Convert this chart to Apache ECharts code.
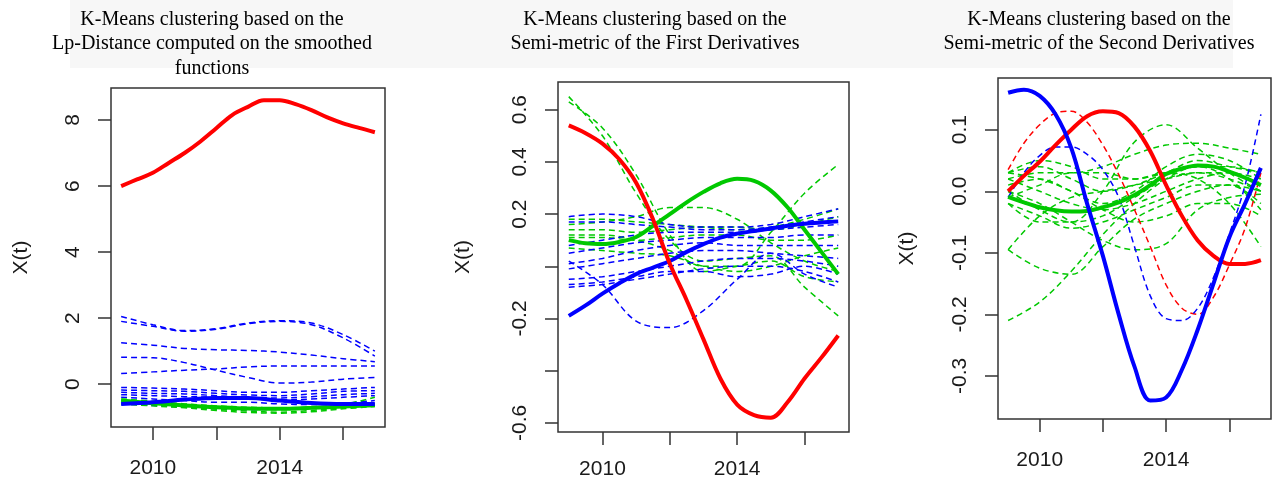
<!DOCTYPE html>
<html>
<head>
<meta charset="utf-8">
<title>K-Means clustering of functional data</title>
<script src="https://cdn.jsdelivr.net/npm/echarts@6/dist/echarts.min.js"></script>
<style>
  html, body { margin: 0; padding: 0; background: #fff; }
  #main { width: 1273px; height: 481px; }
</style>
</head>
<body>
<div id="main"></div>
<script>
// time grids
var yearsFine = [2009, 2009.5, 2010, 2010.5, 2011, 2011.5, 2012, 2012.5, 2013, 2013.5, 2014, 2014.5, 2015, 2015.5, 2016, 2016.5, 2017];
var yearsCoarse = [2009, 2010, 2011, 2012, 2013, 2014, 2015, 2016, 2017];
var xTicks = [2010, 2012, 2014, 2016];
var xLabels = [2010, 2014];

// panel 1 : Lp-distance on smoothed functions
var p1RedMean = [6.0, 6.2, 6.4, 6.7, 7.0, 7.35, 7.75, 8.15, 8.4, 8.6, 8.6, 8.48, 8.3, 8.08, 7.9, 7.76, 7.63];
var p1BlueMean = [-0.6, -0.55, -0.47, -0.42, -0.42, -0.5, -0.57, -0.6, -0.6];
var p1GreenMean = [-0.5, -0.58, -0.65, -0.7, -0.74, -0.75, -0.72, -0.68, -0.64];
var p1BlueMembers = [
  [2.05, 1.8, 1.62, 1.68, 1.85, 1.92, 1.85, 1.5, 1.0],
  [1.9, 1.75, 1.6, 1.66, 1.83, 1.9, 1.8, 1.4, 0.85],
  [1.25, 1.18, 1.08, 1.04, 1.02, 0.97, 0.88, 0.77, 0.68],
  [0.81, 0.8, 0.65, 0.42, 0.2, 0.03, 0.06, 0.15, 0.2],
  [0.32, 0.37, 0.42, 0.46, 0.52, 0.55, 0.55, 0.55, 0.55],
  [-0.1, -0.12, -0.15, -0.2, -0.25, -0.25, -0.2, -0.15, -0.1],
  [-0.18, -0.2, -0.22, -0.28, -0.33, -0.35, -0.3, -0.22, -0.2],
  [-0.25, -0.28, -0.3, -0.35, -0.4, -0.42, -0.38, -0.32, -0.28],
  [-0.32, -0.35, -0.38, -0.4, -0.45, -0.48, -0.45, -0.4, -0.35],
  [-0.4, -0.45, -0.5, -0.55, -0.55, -0.6, -0.62, -0.58, -0.5],
  [-0.6, -0.65, -0.7, -0.75, -0.78, -0.75, -0.7, -0.65, -0.6]
];
var p1GreenMembers = [
  [-0.45, -0.52, -0.6, -0.66, -0.7, -0.72, -0.7, -0.62, -0.4],
  [-0.55, -0.62, -0.7, -0.76, -0.82, -0.85, -0.8, -0.72, -0.65],
  [-0.6, -0.66, -0.72, -0.8, -0.86, -0.88, -0.84, -0.75, -0.68],
  [-0.5, -0.56, -0.62, -0.68, -0.74, -0.78, -0.74, -0.68, -0.62]
];

// panel 2 : semi-metric of the first derivatives
var p2RedMean = [0.54, 0.51, 0.47, 0.41, 0.32, 0.18, 0.01, -0.13, -0.28, -0.43, -0.53, -0.57, -0.58, -0.52, -0.43, -0.35, -0.265];
var p2GreenMean = [0.10, 0.088, 0.085, 0.093, 0.112, 0.155, 0.2, 0.245, 0.285, 0.318, 0.335, 0.327, 0.29, 0.225, 0.14, 0.055, -0.03];
var p2BlueMean = [-0.19, -0.15, -0.105, -0.065, -0.03, -0.005, 0.02, 0.055, 0.085, 0.11, 0.125, 0.135, 0.145, 0.155, 0.163, 0.168, 0.172];
var p2GreenMembers = [
  [0.65, 0.5, 0.28, 0.1, 0.02, 0.03, 0.04, -0.08, -0.19],
  [0.63, 0.53, 0.35, 0.12, -0.02, 0.0, 0.02, -0.04, -0.06],
  [0.12, 0.12, 0.1, 0.06, 0.0, 0.0, 0.13, 0.28, 0.39],
  [0.16, 0.17, 0.19, 0.225, 0.225, 0.18, 0.09, 0.02, -0.02],
  [0.18, 0.18, 0.17, 0.16, 0.15, 0.14, 0.15, 0.18, 0.22],
  [0.14, 0.14, 0.13, 0.14, 0.15, 0.15, 0.14, 0.16, 0.19],
  [0.11, 0.11, 0.1, 0.11, 0.12, 0.12, 0.1, 0.1, 0.12],
  [0.07, 0.06, 0.05, 0.04, 0.0, -0.02, 0.0, 0.04, 0.07]
];
var p2BlueMembers = [
  [0.02, -0.07, -0.21, -0.235, -0.17, -0.05, 0.05, -0.03, -0.08],
  [-0.07, -0.06, -0.04, -0.02, -0.02, -0.04, -0.03, 0.0, -0.03],
  [0.19, 0.2, 0.19, 0.16, 0.15, 0.15, 0.16, 0.19, 0.22],
  [0.17, 0.17, 0.16, 0.15, 0.14, 0.14, 0.15, 0.17, 0.19],
  [0.08, 0.1, 0.12, 0.13, 0.13, 0.13, 0.14, 0.15, 0.16],
  [0.05, 0.07, 0.09, 0.1, 0.11, 0.11, 0.11, 0.12, 0.12],
  [0.01, 0.03, 0.06, 0.08, 0.09, 0.08, 0.08, 0.08, 0.08],
  [-0.01, 0.01, 0.03, 0.05, 0.06, 0.06, 0.05, 0.04, 0.03],
  [-0.05, -0.04, -0.02, 0.0, 0.02, 0.03, 0.03, 0.02, 0.0],
  [-0.08, -0.07, -0.05, -0.03, -0.01, 0.0, 0.0, -0.02, -0.06]
];

// panel 3 : semi-metric of the second derivatives
var p3BlueMean = [0.16, 0.165, 0.155, 0.125, 0.07, -0.02, -0.105, -0.2, -0.285, -0.34, -0.335, -0.29, -0.225, -0.15, -0.075, -0.02, 0.038];
var p3RedMean = [0.0, 0.025, 0.048, 0.075, 0.1, 0.122, 0.13, 0.127, 0.105, 0.065, 0.01, -0.04, -0.08, -0.105, -0.118, -0.118, -0.112];
var p3GreenMean = [-0.009, -0.018, -0.026, -0.031, -0.033, -0.032, -0.026, -0.018, -0.006, 0.01, 0.028, 0.037, 0.042, 0.04, 0.032, 0.022, 0.01];
var p3RedMember = [0.035, 0.078, 0.108, 0.127, 0.13, 0.112, 0.075, 0.027, -0.03, -0.09, -0.152, -0.19, -0.2, -0.172, -0.12, -0.06, 0.03];
var p3BlueMember = [-0.01, 0.03, 0.058, 0.072, 0.072, 0.06, 0.035, -0.01, -0.09, -0.17, -0.207, -0.21, -0.19, -0.14, -0.07, 0.01, 0.125];
var p3GreenMembers = [
  [-0.21, -0.18, -0.13, -0.07, -0.02, 0.02, 0.04, 0.04, 0.03],
  [-0.095, -0.125, -0.135, -0.09, -0.045, -0.02, 0.0, 0.01, 0.0],
  [-0.095, -0.04, -0.01, 0.0, 0.01, 0.02, 0.03, 0.03, 0.02],
  [0.03, 0.05, 0.04, 0.02, 0.02, 0.03, 0.02, -0.02, -0.09],
  [0.02, 0.03, 0.03, 0.04, 0.06, 0.075, 0.078, 0.07, 0.06],
  [0.0, -0.02, -0.05, -0.08, -0.095, -0.085, -0.03, -0.01, -0.005],
  [-0.02, -0.05, -0.05, 0.0, 0.08, 0.108, 0.07, 0.03, 0.0],
  [0.03, 0.04, 0.02, 0.0, 0.01, 0.03, 0.05, 0.04, 0.03],
  [0.01, 0.02, 0.0, -0.02, 0.0, 0.04, 0.06, 0.05, 0.02],
  [0.0, -0.03, -0.05, -0.04, -0.01, 0.02, 0.03, 0.02, 0.0],
  [-0.02, -0.04, -0.06, -0.05, -0.03, -0.01, 0.01, 0.01, -0.02],
  [0.02, 0.0, -0.02, -0.03, -0.02, 0.0, 0.02, 0.03, 0.01],
  [-0.01, 0.01, 0.03, 0.03, 0.02, 0.03, 0.04, 0.02, -0.03],
  [0.03, 0.02, 0.0, -0.03, -0.05, -0.04, -0.02, -0.02, -0.04]
];

var RED = "#ff0000", BLUE = "#0000ff", GREEN = "#00c800";
var LABEL_FONT = "Liberation Sans";

var myChart = echarts.init(document.getElementById("main"));

function curve(grid, years, vals, color, dashed) {
  return {
    type: "line",
    xAxisIndex: grid,
    yAxisIndex: grid,
    data: years.map(function (y, i) { return [y, vals[i]]; }),
    symbol: "none",
    smooth: 0.35,
    silent: true,
    lineStyle: {
      color: color,
      width: dashed ? 1.5 : 4,
      type: dashed ? [6, 4] : "solid"
    },
    z: dashed ? 2 : 3
  };
}

function xAx(grid, margin) {
  return {
    type: "value",
    gridIndex: grid,
    min: 2008.68,
    max: 2017.32,
    axisLine: { show: false, onZero: false },
    splitLine: { show: false },
    axisTick: { show: true, length: 13, customValues: xTicks, lineStyle: { color: "#333", width: 1.5 } },
    axisLabel: {
      customValues: xLabels,
      margin: margin,
      fontFamily: LABEL_FONT,
      fontSize: 21,
      color: "#1a1a1a",
      formatter: function (v) { return String(v); }
    }
  };
}

function yAx(grid, min, max, ticks, labels, digits, gap) {
  return {
    type: "value",
    gridIndex: grid,
    min: min,
    max: max,
    name: "X(t)",
    nameLocation: "middle",
    nameRotate: 90,
    nameGap: gap,
    nameTextStyle: { fontFamily: LABEL_FONT, fontSize: 21, color: "#1a1a1a" },
    axisLine: { show: false, onZero: false },
    splitLine: { show: false },
    axisTick: { show: true, length: 13, customValues: ticks, lineStyle: { color: "#333", width: 1.5 } },
    axisLabel: {
      customValues: labels,
      rotate: 90,
      margin: 27,
      fontFamily: LABEL_FONT,
      fontSize: 21,
      color: "#1a1a1a",
      formatter: function (v) { return Number(v).toFixed(digits); }
    }
  };
}

function titleAt(text, cx) {
  return {
    text: text,
    left: cx,
    top: 7,
    padding: 0,
    textAlign: "center",
    textStyle: {
      fontFamily: "Liberation Serif",
      fontSize: 20,
      fontWeight: "normal",
      color: "#000",
      lineHeight: 24.5
    }
  };
}

var series = [];
p1BlueMembers.forEach(function (m) { series.push(curve(0, yearsCoarse, m, BLUE, true)); });
p1GreenMembers.forEach(function (m) { series.push(curve(0, yearsCoarse, m, GREEN, true)); });
series.push(curve(0, yearsCoarse, p1GreenMean, GREEN, false));
series.push(curve(0, yearsCoarse, p1BlueMean, BLUE, false));
series.push(curve(0, yearsFine, p1RedMean, RED, false));

p2GreenMembers.forEach(function (m) { series.push(curve(1, yearsCoarse, m, GREEN, true)); });
p2BlueMembers.forEach(function (m) { series.push(curve(1, yearsCoarse, m, BLUE, true)); });
series.push(curve(1, yearsFine, p2GreenMean, GREEN, false));
series.push(curve(1, yearsFine, p2BlueMean, BLUE, false));
series.push(curve(1, yearsFine, p2RedMean, RED, false));

p3GreenMembers.forEach(function (m) { series.push(curve(2, yearsCoarse, m, GREEN, true)); });
series.push(curve(2, yearsFine, p3RedMember, RED, true));
series.push(curve(2, yearsFine, p3BlueMember, BLUE, true));
series.push(curve(2, yearsFine, p3GreenMean, GREEN, false));
series.push(curve(2, yearsFine, p3RedMean, RED, false));
series.push(curve(2, yearsFine, p3BlueMean, BLUE, false));

var gridStyle = { show: true, borderColor: "#333", borderWidth: 1.5, backgroundColor: "transparent" };

var option = {
  animation: false,
  backgroundColor: "#fff",
  graphic: [
    { type: "rect", left: 70, top: 0, shape: { width: 1163, height: 68 }, style: { fill: "#f7f7f7" }, z: -10, silent: true }
  ],
  title: [
    titleAt("K-Means clustering based on the\nLp-Distance computed on the smoothed\nfunctions", 212),
    titleAt("K-Means clustering based on the\nSemi-metric of the First Derivatives", 655),
    titleAt("K-Means clustering based on the\nSemi-metric of the Second Derivatives", 1099)
  ],
  grid: [
    Object.assign({ left: 111, top: 88, width: 274, height: 339 }, gridStyle),
    Object.assign({ left: 558, top: 82, width: 291, height: 350 }, gridStyle),
    Object.assign({ left: 998, top: 78, width: 273, height: 341 }, gridStyle)
  ],
  xAxis: [xAx(0, 31), xAx(1, 27), xAx(2, 31)],
  yAxis: [
    yAx(0, -1.3, 8.97, [0, 2, 4, 6, 8], [0, 2, 4, 6, 8], 0, 79),
    yAx(1, -0.635, 0.706, [-0.6, -0.4, -0.2, 0, 0.2, 0.4, 0.6], [-0.6, -0.2, 0.2, 0.4, 0.6], 1, 84),
    yAx(2, -0.37, 0.184, [-0.3, -0.2, -0.1, 0, 0.1], [-0.3, -0.2, -0.1, 0, 0.1], 1, 80)
  ],
  series: series
};

myChart.setOption(option);
</script>
</body>
</html>
